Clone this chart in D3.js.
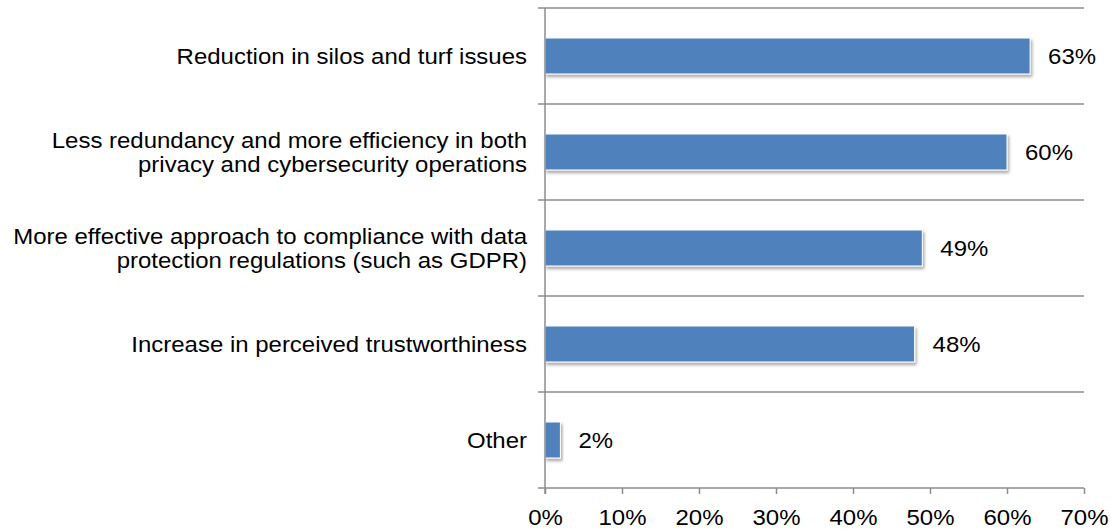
<!DOCTYPE html>
<html>
<head>
<meta charset="utf-8">
<script src="https://cdn.jsdelivr.net/npm/d3@7"></script>
<style>
  html, body { margin: 0; padding: 0; background: #fff; }
  svg { display: block; font-family: "Liberation Sans", Arial, sans-serif; }
</style>
</head>
<body>
<svg id="chart" width="1110" height="529"></svg>
<script>
// Survey results: benefits of combining privacy and cybersecurity
const categories = [
  ["Reduction in silos and turf issues"],
  ["Less redundancy and more efficiency in both", "privacy and cybersecurity operations"],
  ["More effective approach to compliance with data", "protection regulations (such as GDPR)"],
  ["Increase in perceived trustworthiness"],
  ["Other"]
];
const values = [63, 60, 49, 48, 2];
const tickValues = [0, 10, 20, 30, 40, 50, 60, 70];

const svg = d3.select("#chart");
const plotLeft = 545, plotRight = 1084, plotTop = 8, plotBottom = 488;
const fontSize = 22;
const stretch = "scale(1.09,1)";

const x = d3.scaleLinear().domain([0, 70]).range([plotLeft, plotRight]);
const y = d3.scaleBand().domain(d3.range(categories.length)).range([plotTop, plotBottom]).paddingInner(0).paddingOuter(0);
const barH = 36;
const gridColor = "#8c8c8c";

// soft drop shadow under bars
const defs = svg.append("defs");
const f = defs.append("filter").attr("id", "shadow").attr("x", "-10%").attr("y", "-30%").attr("width", "130%").attr("height", "170%");
f.append("feDropShadow").attr("dx", 1.5).attr("dy", 2.5).attr("stdDeviation", 1.6)
  .attr("flood-color", "#000").attr("flood-opacity", 0.35);

// category dividers
const dividers = d3.range(categories.length).map(i => plotTop + i * y.step());
svg.append("g").selectAll("line").data(dividers).join("line")
  .attr("x1", plotLeft - 7).attr("x2", plotRight)
  .attr("y1", d => d).attr("y2", d => d)
  .attr("stroke", gridColor).attr("stroke-width", 1.5);

// bars
svg.append("g").selectAll("rect").data(values).join("rect")
  .attr("x", x(0))
  .attr("y", (d, i) => y(i) + (y.bandwidth() - barH) / 2)
  .attr("width", d => x(d) - x(0))
  .attr("height", barH)
  .attr("fill", "#4f81bd")
  .attr("stroke", "#fff").attr("stroke-width", 1)
  .attr("filter", "url(#shadow)");

// bottom axis
const xAxis = d3.axisBottom(x).tickValues(tickValues).tickFormat(d => d + "%").tickSize(6).tickSizeOuter(0);
const gx = svg.append("g").attr("transform", `translate(0,${plotBottom})`).call(xAxis);
gx.select(".domain").attr("stroke", gridColor).attr("stroke-width", 1.5)
  .attr("d", `M${plotLeft - 7},0H${plotRight}`);
gx.selectAll(".tick line").attr("stroke", gridColor).attr("stroke-width", 1.5);
gx.selectAll(".tick text").attr("fill", "#000").attr("font-size", fontSize)
  .attr("font-family", "Liberation Sans, Arial, sans-serif")
  .attr("y", 37).attr("dy", 0)
  .attr("transform", stretch);

// vertical axis line
svg.append("line").attr("x1", plotLeft).attr("x2", plotLeft).attr("y1", plotTop).attr("y2", plotBottom + 6)
  .attr("stroke", gridColor).attr("stroke-width", 1.5);

// category labels
const lineGap = 24.5;
const labels = svg.append("g").selectAll("text").data(categories).join("text")
  .attr("text-anchor", "end")
  .attr("font-size", fontSize)
  .attr("fill", "#000")
  .attr("transform", (d, i) => `translate(${plotLeft - 18},${y(i) + y.bandwidth() / 2}) ${stretch}`);
labels.each(function(lines) {
  const t = d3.select(this);
  const n = lines.length;
  lines.forEach((ln, k) => {
    t.append("tspan").attr("x", 0)
      .attr("y", (k - (n - 1) / 2) * lineGap)
      .attr("dy", "0.36em")
      .text(ln);
  });
});

// value labels
svg.append("g").selectAll("text").data(values).join("text")
  .attr("transform", (d, i) => `translate(${x(d) + 18},${y(i) + y.bandwidth() / 2}) ${stretch}`)
  .attr("dy", "0.36em")
  .attr("font-size", fontSize)
  .attr("fill", "#000")
  .text(d => d + "%");
</script>
</body>
</html>
